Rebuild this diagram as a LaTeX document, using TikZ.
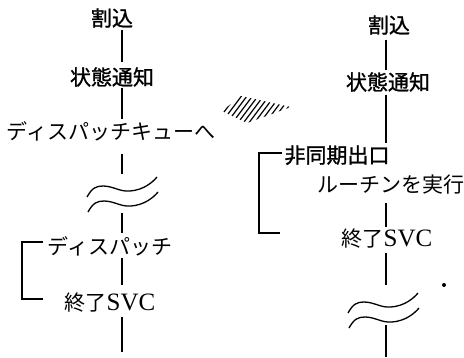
\documentclass[tikz,border=0pt]{standalone}
\usepackage{fontspec}
\newfontfamily\jp{Noto Sans CJK JP}
\newfontfamily\jpb[FakeBold=1.2]{Noto Sans CJK JP}
\newfontfamily\tms{Liberation Serif}
\newcommand{\svc}{{\tms\fontsize{25}{25}\selectfont SVC}}
\tikzset{
  lbl/.style={inner sep=0pt, text height=18.5pt, text depth=2.5pt, font=\jp\fontsize{21}{24}\selectfont},
  lblb/.style={lbl, font=\jpb\fontsize{21}{24}\selectfont},
  wire/.style={line width=1.3pt},
  brk/.pic={
    \draw[line width=1.3pt] (0,0) .. controls (5,-9) and (9,-11) .. (16,-11) .. controls (26,-11) and (33,-5) .. (43,-6) .. controls (56,-7) and (65,-14) .. (70,-20);
    \draw[line width=1.3pt] (1,15) .. controls (6,6) and (10,4) .. (17,4) .. controls (27,4) and (34,10) .. (44,9) .. controls (57,8) and (66,1) .. (71,-5);
  }
}
\begin{document}
\begin{tikzpicture}[x=1pt,y=-1pt]
\useasboundingbox (0,0) rectangle (464,357);
% left column
\coordinate (L) at (122,0);
\node[lblb] (a1) at (112,18) {割込};
\node[lblb] (a2) at (112,77) {状態通知};
\node[lbl] (a3) at (111,131) {ディスパッチキューへ};
\coordinate (t1a) at (122,174);
\coordinate (t1b) at (122,213);
\node[lbl] (a4) at (110,246) {ディスパッチ};
\node[lbl] (a5) at (110,302) {終了\svc};
\coordinate (e1) at (122,352);
\draw[wire,shorten <=1pt,shorten >=4pt] (a1.south -| L) -- (a2.north -| L);
\draw[wire,shorten <=0pt,shorten >=1pt] (a2.south -| L) -- (a3.north -| L);
\draw[wire,shorten <=12pt] (a3.south -| L) -- (t1a);
\pic at (87,197) {brk};
\draw[wire,shorten >=2pt] (t1b) -- (a4.north -| L);
\draw[wire,shorten <=1pt,shorten >=6pt] (a4.south -| L) -- (a5.north -| L);
\draw[wire,shorten <=4pt] (a5.south -| L) -- (e1);
\draw[wire] (43,242) -| (22,299) -- (43,299);
% right column
\coordinate (R) at (386,0);
\node[lblb] (b1) at (389,25) {割込};
\node[lblb] (b2) at (388,82) {状態通知};
\node[lblb] (b3) at (337,155) {非同期出口};
\node[lbl] (b4) at (391,184) {ルーチンを実行};
\node[lbl] (b5) at (387,238) {終了\svc};
\coordinate (t2a) at (386,285);
\coordinate (t2b) at (386,325);
\coordinate (e2) at (386,357);
\draw[wire,shorten <=4pt,shorten >=1pt] (b1.south -| R) -- (b2.north -| R);
\draw[wire,shorten <=2pt,shorten >=1pt] (b2.south -| R) -- (b3.north -| R);
\draw[wire,shorten <=8pt,shorten >=0pt] (b4.south -| R) -- (b5.north -| R);
\draw[wire,shorten <=4pt] (b5.south -| R) -- (t2a);
\pic at (348,313) {brk};
\draw[wire] (t2b) -- (e2);
\draw[wire] (282,153) -| (259,233) -- (280,233);
% hatched mark
\begin{scope}
\clip (222,111) -- (241,96) -- (291,107) -- (247,123) -- cycle;
\foreach \i in {0,...,18} {
  \draw[line width=1.2pt] ({205+5.5*\i},130) -- ++(27,-36);
}
\end{scope}
% dot
\fill (444,285) circle (2);
\end{tikzpicture}
\end{document}
